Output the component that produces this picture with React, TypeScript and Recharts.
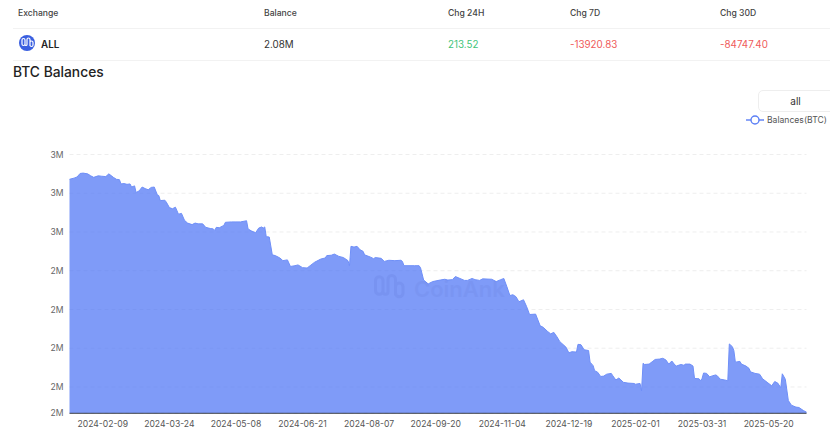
import React from 'react';
import { AreaChart, Area, XAxis, YAxis, CartesianGrid, Legend } from 'recharts';

const FONT = 'Inter, "Noto Sans", sans-serif';
const BLUE = '#4d74f5';

// position of each reading on the date axis (the source skips some days)
const dayIndex = [
  0, 3, 5, 7, 9, 12, 14, 16, 19, 21, 24, 26, 29, 31, 33, 34, 36, 38, 40, 41, 43, 44, 46, 48, 50, 52, 54, 56, 58, 59,
  60, 63, 64, 66, 68, 70, 72, 74, 76, 78, 81, 83, 85, 88, 90, 93, 95, 96, 97, 99, 102, 103, 107, 110, 113, 117, 118, 120, 123, 125,
  127, 128, 129, 130, 132, 134, 136, 139, 141, 144, 146, 149, 151, 154, 157, 159, 162, 166, 169, 170, 173, 175, 178, 181, 184, 185, 186, 188, 190, 192,
  194, 195, 199, 201, 202, 206, 208, 211, 215, 219, 220, 221, 225, 228, 231, 232, 234, 237, 240, 245, 248, 250, 253, 255, 258, 261, 263, 266, 268, 271,
  273, 279, 282, 285, 287, 289, 291, 293, 295, 297, 300, 302, 304, 308, 311, 313, 316, 318, 320, 322, 324, 328, 330, 332, 335, 336, 338, 340, 343, 344,
  346, 347, 349, 351, 353, 355, 358, 359, 361, 363, 366, 369, 373, 374, 377, 378, 379, 380, 383, 385, 387, 390, 392, 394, 396, 398, 400, 401, 404, 406,
  407, 410, 412, 413, 416, 417, 418, 419, 421, 423, 425, 427, 428, 430, 433, 435, 436, 438, 439, 440, 443, 444, 447, 449, 450, 453, 456, 458, 461, 464,
  466, 468, 470, 471, 473, 475, 477, 480, 482, 485, 487,
];

// balances in millions of BTC
const balances = [
  2.636, 2.639, 2.642, 2.651, 2.652, 2.65, 2.645, 2.641, 2.645, 2.644, 2.643, 2.65, 2.641, 2.636, 2.635, 2.624, 2.625, 2.623, 2.624, 2.616, 2.619, 2.602, 2.606, 2.616, 2.612, 2.609, 2.615, 2.616, 2.596, 2.594,
  2.581, 2.582, 2.577, 2.563, 2.56, 2.564, 2.546, 2.548, 2.53, 2.523, 2.519, 2.523, 2.521, 2.521, 2.512, 2.509, 2.508, 2.504, 2.512, 2.511, 2.517, 2.525, 2.526, 2.526, 2.526, 2.529, 2.508, 2.503, 2.498, 2.51,
  2.513, 2.51, 2.513, 2.488, 2.487, 2.441, 2.439, 2.433, 2.426, 2.428, 2.411, 2.413, 2.415, 2.408, 2.407, 2.413, 2.422, 2.43, 2.433, 2.439, 2.44, 2.443, 2.437, 2.434, 2.426, 2.413, 2.463, 2.461, 2.463, 2.454,
  2.45, 2.441, 2.435, 2.431, 2.434, 2.432, 2.424, 2.427, 2.426, 2.427, 2.424, 2.413, 2.413, 2.413, 2.413, 2.407, 2.376, 2.366, 2.372, 2.376, 2.378, 2.376, 2.377, 2.385, 2.38, 2.375, 2.375, 2.38, 2.377, 2.375,
  2.379, 2.378, 2.372, 2.377, 2.38, 2.359, 2.336, 2.338, 2.333, 2.32, 2.325, 2.308, 2.287, 2.288, 2.258, 2.254, 2.243, 2.237, 2.241, 2.23, 2.217, 2.203, 2.188, 2.191, 2.19, 2.21, 2.209, 2.196, 2.194, 2.164,
  2.155, 2.142, 2.138, 2.127, 2.128, 2.133, 2.135, 2.129, 2.118, 2.123, 2.112, 2.11, 2.109, 2.107, 2.109, 2.09, 2.161, 2.158, 2.159, 2.165, 2.171, 2.172, 2.174, 2.17, 2.159, 2.167, 2.157, 2.154, 2.158, 2.156,
  2.159, 2.159, 2.154, 2.122, 2.121, 2.116, 2.122, 2.136, 2.135, 2.126, 2.129, 2.131, 2.129, 2.12, 2.118, 2.116, 2.211, 2.204, 2.194, 2.164, 2.166, 2.159, 2.154, 2.148, 2.139, 2.135, 2.133, 2.121, 2.112, 2.103,
  2.114, 2.11, 2.098, 2.134, 2.12, 2.065, 2.053, 2.048, 2.047, 2.039, 2.035,
];

const xTickIndex = [22, 66, 110, 154, 198, 242, 286, 330, 374, 418, 462];
const xTickLabels = [
  '2024-02-09', '2024-03-24', '2024-05-08', '2024-06-21', '2024-08-07', '2024-09-20',
  '2024-11-04', '2024-12-19', '2025-02-01', '2025-03-31', '2025-05-20',
];
const yTicks = [2.032, 2.1, 2.2, 2.3, 2.4, 2.5, 2.6, 2.7];

const tableHeaders = ['Exchange', 'Balance', 'Chg 24H', 'Chg 7D', 'Chg 30D'];
const tableValues = ['ALL', '2.08M', '213.52', '-13920.83', '-84747.40'];
const tableColumnX = [18, 264, 448, 570, 720];
const tableValueColors = ['#222', '#333', '#3fc47a', '#ef5a5a', '#ef5a5a'];

const chartData = dayIndex.map((index, i) => ({ index, balance: balances[i] }));

const LogoMark = ({ size, color }: { size: number; color: string }) => (
  <svg width={size} height={size} viewBox="0 0 32 32" style={{ display: 'block' }}>
    <path
      d="M6 10 a3 3 0 0 1 6 0 v9 a2 2 0 0 0 4 0 V9 a3 3 0 0 1 6 0 v13 M22 15 a3 3 0 0 1 6 0 v5 a3 3 0 0 1 -6 0 M6 10 v8 a3 3 0 0 0 6 0"
      fill="none"
      stroke={color}
      strokeWidth={2.4}
    />
  </svg>
);

const LegendContent = () => (
  <div style={{ display: 'flex', alignItems: 'center', fontFamily: FONT, fontSize: 8.6, color: '#555', whiteSpace: 'nowrap' }}>
    <svg width={18} height={12} style={{ display: 'block', marginRight: 3 }}>
      <line x1={0} x2={18} y1={6} y2={6} stroke="#5b7ff5" strokeWidth={1.4} />
      <circle cx={9} cy={6} r={4} fill="#fff" stroke="#5b7ff5" strokeWidth={1.4} />
    </svg>
    Balances(BTC)
  </div>
);

export default function App() {
  return (
    <div style={{ position: 'absolute', left: 0, top: 0, width: 830, height: 432, overflow: 'hidden', background: '#fff', fontFamily: FONT }}>
      {tableHeaders.map((h, i) => (
        <div key={h} style={{ position: 'absolute', left: tableColumnX[i], top: 7, fontSize: 8.6, lineHeight: '12px', fontWeight: 500, color: '#444' }}>
          {h}
        </div>
      ))}
      <div style={{ position: 'absolute', left: 13, right: 0, top: 28, height: 1, background: '#f2f2f2' }} />
      <div style={{ position: 'absolute', left: 19, top: 35, width: 16, height: 16, borderRadius: 8, background: '#3a5fe0' }}>
        <LogoMark size={16} color="#fff" />
      </div>
      {tableValues.map((v, i) => (
        <div
          key={v}
          style={{
            position: 'absolute',
            left: i === 0 ? 41 : tableColumnX[i],
            top: 38,
            fontSize: 9.8,
            lineHeight: '13px',
            fontWeight: i === 0 ? 600 : 400,
            color: tableValueColors[i],
          }}
        >
          {v}
        </div>
      ))}
      <div style={{ position: 'absolute', left: 13, right: 0, top: 60, height: 1, background: '#f2f2f2' }} />
      <div style={{ position: 'absolute', left: 13, top: 62, fontSize: 13.8, lineHeight: '20px', fontWeight: 500, color: '#222' }}>BTC Balances</div>

      <div style={{ position: 'absolute', left: 758, top: 90, width: 80, height: 22, boxSizing: 'border-box', border: '1px solid #eee', borderRadius: 5, textAlign: 'center', paddingRight: 5, fontSize: 10, lineHeight: '20px', color: '#333' }}>
        all
      </div>

      <div style={{ position: 'absolute', left: 0, top: 0 }}>
        <AreaChart width={830} height={432} data={chartData} margin={{ top: 154.5, right: 23.5, bottom: 0, left: 29.5 }}>
          <CartesianGrid vertical={false} stroke="#eeeeee" strokeDasharray="4 3" />
          <XAxis
            dataKey="index"
            type="number"
            domain={[0, 487]}
            ticks={xTickIndex}
            tickFormatter={(v: number) => xTickLabels[xTickIndex.indexOf(v)]}
            height={18.7}
            interval={0}
            tickLine={false}
            tickMargin={2}
            axisLine={{ stroke: '#3a3f4a', strokeWidth: 1 }}
            tick={{ fontSize: 8.6, fill: '#555', fontFamily: FONT }}
          />
          <YAxis
            type="number"
            domain={[2.032, 2.7]}
            ticks={yTicks}
            interval={0}
            allowDataOverflow
            width={40}
            axisLine={false}
            tickLine={false}
            tickMargin={0}
            tickFormatter={(v: number) => `${Math.round(v)}M`}
            tick={{ fontSize: 8.6, fill: '#666', fontFamily: FONT }}
          />
          {/* middle + center keeps the legend from taking room off the plot */}
          <Legend
            layout="horizontal"
            verticalAlign="middle"
            align="center"
            content={<LegendContent />}
            wrapperStyle={{ left: 746, top: 114, bottom: 'auto', width: 84, height: 12 }}
          />
          <Area
            type="linear"
            dataKey="balance"
            name="Balances(BTC)"
            stroke="#6f8ff7"
            strokeWidth={1}
            fill={BLUE}
            fillOpacity={0.72}
            dot={false}
            activeDot={false}
            isAnimationActive={false}
          />
        </AreaChart>
      </div>

      {/* CoinAnk watermark over the area */}
      <div style={{ position: 'absolute', left: 368, top: 268, opacity: 0.07 }}>
        <LogoMark size={40} color="#24369a" />
      </div>
      <div style={{ position: 'absolute', left: 414, top: 275, fontSize: 22, lineHeight: '28px', fontWeight: 600, color: '#24369a', opacity: 0.05 }}>CoinAnk</div>
    </div>
  );
}
